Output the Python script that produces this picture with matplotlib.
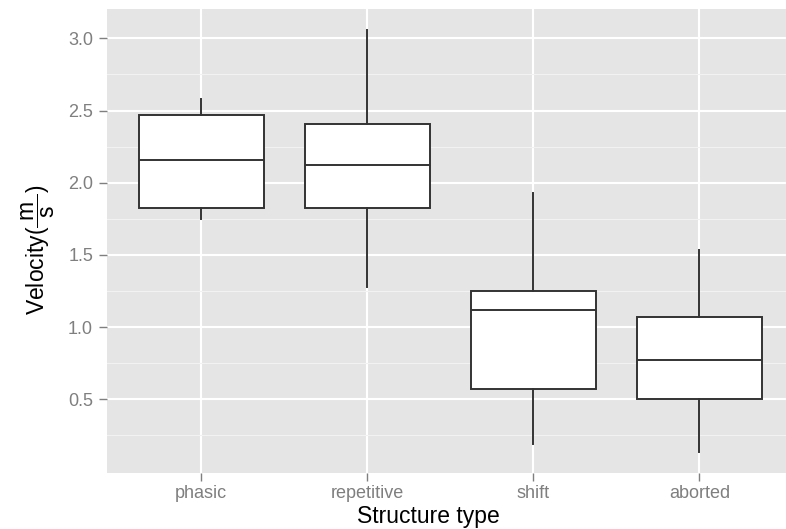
import matplotlib
matplotlib.use("Agg")
import matplotlib.pyplot as plt

plt.rcParams['font.family'] = ['Liberation Sans', 'DejaVu Sans']
plt.rcParams['mathtext.fontset'] = 'custom'
plt.rcParams['mathtext.rm'] = 'Liberation Sans'
plt.rcParams['mathtext.it'] = 'Liberation Sans'
plt.rcParams['mathtext.bf'] = 'Liberation Sans'

# box stats
categories = ['phasic', 'repetitive', 'shift', 'aborted']
whisker_low = [1.75, 1.28, 0.19, 0.135]
q1 = [1.823, 1.823, 0.569, 0.504]
median = [2.157, 2.12, 1.118, 0.770]
q3 = [2.467, 2.406, 1.25, 1.068]
whisker_high = [2.578, 3.055, 1.931, 1.534]

stats = []
for i in range(len(categories)):
    stats.append({'label': categories[i], 'whislo': whisker_low[i], 'q1': q1[i],
                  'med': median[i], 'q3': q3[i], 'whishi': whisker_high[i], 'fliers': []})

fig = plt.figure(figsize=(7.86, 5.29), dpi=100)
W, H = 786, 529
ax = fig.add_axes([107 / W, (H - 472.7) / H, (786 - 107) / W, (472.7 - 9) / H])
ax.set_facecolor('#E5E5E5')

line_c = '#333333'
ax.bxp(stats, positions=range(1, 5), widths=0.75, showcaps=False, patch_artist=True,
       boxprops=dict(facecolor='white', edgecolor=line_c, linewidth=1.4),
       medianprops=dict(color=line_c, linewidth=1.4),
       whiskerprops=dict(color=line_c, linewidth=1.4), zorder=3)

ax.set_xlim(0.432, 4.522)
ax.set_ylim(-0.008, 3.203)
ax.set_yticks([0.5, 1.0, 1.5, 2.0, 2.5, 3.0])
ax.set_yticks([0.25, 0.75, 1.25, 1.75, 2.25, 2.75], minor=True)
ax.set_xticks(range(1, 5))
ax.set_xticklabels(categories)

ax.grid(which='major', color='white', linewidth=1.5, zorder=0)
ax.grid(which='minor', axis='y', color='#F2F2F2', linewidth=0.8, zorder=0)
ax.set_axisbelow(True)
for s in ax.spines.values():
    s.set_visible(False)

ax.tick_params(which='major', colors='#7F7F7F', labelsize=13, length=5.5, width=1)
ax.tick_params(axis='y', pad=4.5)
ax.tick_params(axis='x', pad=3)
ax.tick_params(which='minor', length=0)

ax.set_xlabel('Structure type', fontsize=16.5)
ax.xaxis.set_label_coords(0.473, -0.07)
ax.set_ylabel(r'Velocity$(\dfrac{\ \mathrm{m}\ }{\mathrm{s}})$', fontsize=16.5)
ax.yaxis.set_label_coords(-0.0736, 0.48)

fig.savefig('out.png', dpi=100)
